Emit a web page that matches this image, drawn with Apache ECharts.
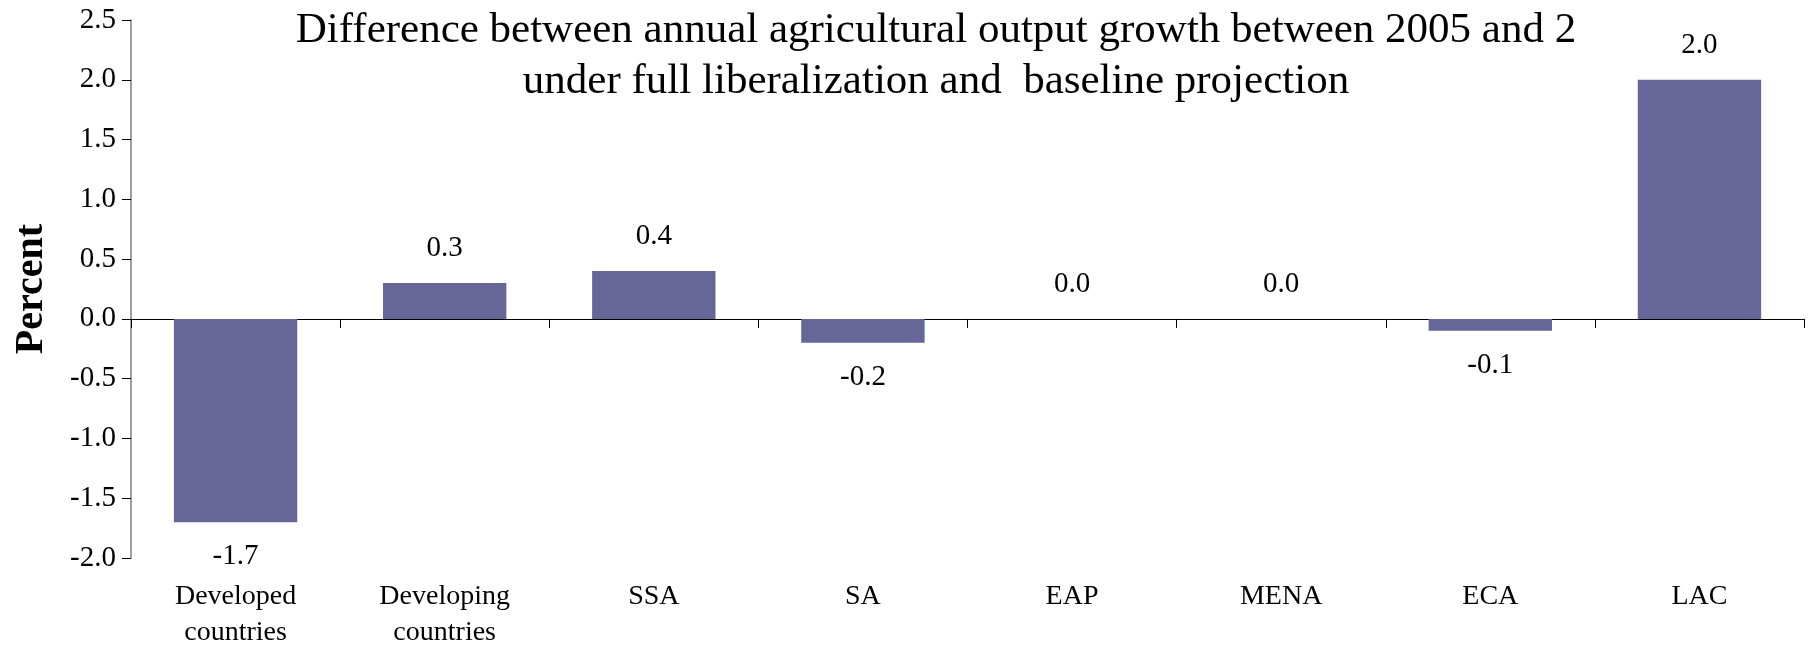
<!DOCTYPE html>
<html>
<head>
<meta charset="utf-8">
<script src="https://cdn.jsdelivr.net/npm/echarts@6/dist/echarts.min.js"></script>
<style>
    html, body { margin: 0; padding: 0; background: #fff; }
    #chart { width: 1816px; height: 651px; }
</style>
</head>
<body>
<div id="chart"></div>
<script>
    var categories = ['Developed\ncountries', 'Developing\ncountries', 'SSA', 'SA', 'EAP', 'MENA', 'ECA', 'LAC'];
    var values = [-1.7, 0.3, 0.4, -0.2, 0.0, 0.0, -0.1, 2.0];
    var titleLines = [
        'Difference between annual agricultural output growth between 2005 and 2',
        'under full liberalization and  baseline projection'
    ];
    var yName = 'Percent';

    var serif = '"Liberation Serif", "Times New Roman", serif';

    // negative bars get their label below the bar
    var barData = values.map(function (v) {
        return {
            value: v,
            label: { position: v < 0 ? 'bottom' : 'top' }
        };
    });

    var myChart = echarts.init(document.getElementById('chart'));
    var option = {
        animation: false,
        backgroundColor: '#fff',
        graphic: [{
            type: 'text',
            x: 936,
            y: 5,
            style: {
                text: titleLines.join('\n'),
                fontFamily: serif,
                fontSize: 43,
                lineHeight: 51,
                fill: '#000',
                align: 'center',
                verticalAlign: 'top'
            }
        }],
        grid: {
            left: 131,
            right: 12,
            top: 20,
            bottom: 87
        },
        xAxis: [
            {
                type: 'category',
                data: categories,
                position: 'bottom',
                axisLine: { show: false, onZero: false },
                axisTick: { show: false },
                axisLabel: {
                    margin: 21,
                    fontFamily: serif,
                    fontSize: 28,
                    lineHeight: 36,
                    color: '#000',
                    interval: 0
                }
            },
            {
                type: 'category',
                data: categories,
                position: 'top',
                axisLine: { show: true, onZero: true, lineStyle: { color: '#000', width: 1 } },
                axisTick: { show: true, inside: true, length: 9, lineStyle: { color: '#000' } },
                axisLabel: { show: false }
            }
        ],
        yAxis: {
            type: 'value',
            min: -2,
            max: 2.5,
            interval: 0.5,
            name: yName,
            nameLocation: 'middle',
            nameGap: 79,
            nameTextStyle: {
                fontFamily: serif,
                fontSize: 40,
                fontWeight: 'bold',
                color: '#000'
            },
            splitLine: { show: false },
            axisLine: { show: true, lineStyle: { color: '#808080', width: 1.5 } },
            axisTick: { show: true, length: 9, lineStyle: { color: '#000' } },
            axisLabel: {
                margin: 15,
                fontFamily: serif,
                fontSize: 29,
                color: '#000',
                formatter: function (v) { return v.toFixed(1); }
            }
        },
        series: [{
            type: 'bar',
            xAxisIndex: 0,
            data: barData,
            barWidth: '59%',
            itemStyle: { color: '#666699' },
            label: {
                show: true,
                distance: 20,
                fontFamily: serif,
                fontSize: 29,
                color: '#000',
                formatter: function (p) { return p.value.toFixed(1); }
            }
        }]
    };
    myChart.setOption(option);
    window.onresize = function () {
        myChart.resize();
    };
</script>
</body>
</html>
